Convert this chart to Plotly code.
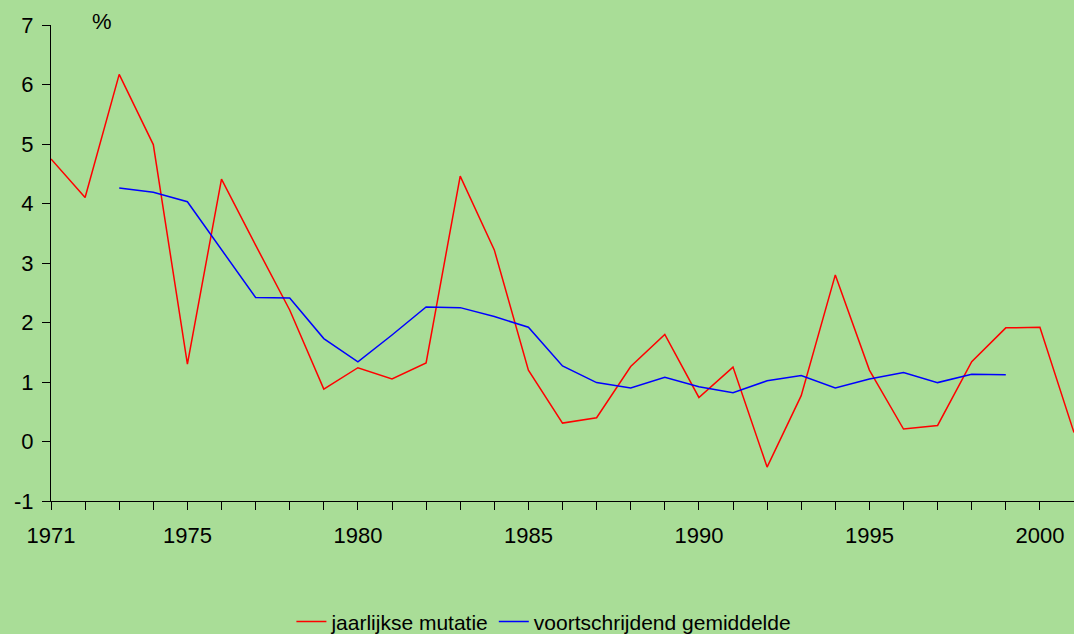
import plotly.graph_objects as go

years = list(range(1971, 2002))
jaarlijks = [4.75, 4.10, 6.17, 4.99, 1.30, 4.41, 3.30, 2.21, 0.88, 1.24,
             1.05, 1.32, 4.46, 3.22, 1.20, 0.31, 0.40, 1.26, 1.80, 0.74,
             1.25, -0.43, 0.77, 2.80, 1.20, 0.21, 0.27, 1.34, 1.91, 1.92,
             0.15]
gem_years = list(range(1973, 2000))
gemiddelde = [4.26, 4.19, 4.03, 3.22, 2.42, 2.41, 1.73, 1.34, 1.79, 2.26,
              2.25, 2.10, 1.92, 1.27, 0.99, 0.90, 1.08, 0.92, 0.82, 1.02,
              1.11, 0.90, 1.05, 1.16, 0.99, 1.13, 1.12]
x_labels = {1971: "1971", 1975: "1975", 1980: "1980", 1985: "1985",
            1990: "1990", 1995: "1995", 2000: "2000"}
y_ticks = [-1, 0, 1, 2, 3, 4, 5, 6, 7]

BG = "#A9DD97"
FONT = "Arial, Liberation Sans, sans-serif"
FS = 22

fig = go.Figure()
fig.add_trace(go.Scatter(x=years, y=jaarlijks, mode="lines",
                         name="jaarlijkse mutatie",
                         line=dict(color="#FF0000", width=1.5)))
fig.add_trace(go.Scatter(x=gem_years, y=gemiddelde, mode="lines",
                         name="voortschrijdend gemiddelde",
                         line=dict(color="#0000FF", width=1.5)))

fig.update_layout(
    width=1074, height=634,
    paper_bgcolor=BG, plot_bgcolor=BG,
    margin=dict(l=51, r=0, t=25, b=133, autoexpand=False),
    font=dict(family=FONT, size=FS, color="black"),
    showlegend=True,
    legend=dict(orientation="h", x=0.235, xanchor="left", y=-0.254,
                yanchor="middle", bgcolor="rgba(0,0,0,0)",
                font=dict(family=FONT, size=21, color="black")),
    annotations=[dict(text="%", x=(102 - 51) / 1023, y=(501 - 21) / 476,
                      xref="paper", yref="paper", xanchor="center",
                      yanchor="middle", showarrow=False,
                      font=dict(family=FONT, size=FS))],
)

fig.update_xaxes(
    range=[1971, 2001], showgrid=False, zeroline=False,
    showline=True, linecolor="black", linewidth=1,
    ticks="outside", ticklen=8, tickwidth=1, tickcolor="black",
    tickvals=years, ticktext=[x_labels.get(y, "") for y in years],
    tickfont=dict(family=FONT, size=FS), ticklabelstandoff=7,
    automargin=False,
)
fig.update_yaxes(
    range=[-1, 7], showgrid=False, zeroline=False,
    showline=True, linecolor="black", linewidth=1,
    ticks="outside", ticklen=8, tickwidth=1, tickcolor="black",
    tickvals=y_ticks, ticktext=[str(v) for v in y_ticks],
    tickfont=dict(family=FONT, size=FS), ticklabelstandoff=4,
    automargin=False,
)

fig.write_html("out.html",
               config={"displayModeBar": False},
               post_script="document.body.style.margin='0';"
                           "document.body.style.padding='0';")
